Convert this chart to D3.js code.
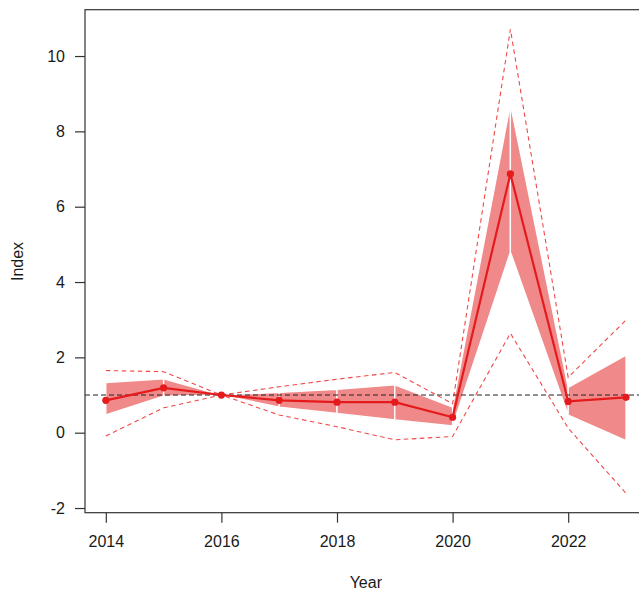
<!DOCTYPE html>
<html>
<head>
<meta charset="utf-8">
<script src="https://cdn.jsdelivr.net/npm/d3@7"></script>
<style>
  html, body { margin: 0; padding: 0; background: #fff; overflow: hidden; }
  svg { display: block; }
  text { font-family: "Liberation Sans", Arial, sans-serif; fill: #1a1a1a; }
</style>
</head>
<body>
<script>
// ---- data ----
const years      = [2014, 2015, 2016, 2017, 2018, 2019, 2020, 2021, 2022, 2023];
const indexVals  = [0.86, 1.19, 1.00, 0.86, 0.81, 0.81, 0.41, 6.87, 0.83, 0.94];
const bandUpper  = [1.33, 1.43, 1.00, 1.07, 1.15, 1.27, 0.68, 8.72, 1.20, 2.06];
const bandLower  = [0.47, 0.97, 1.00, 0.68, 0.51, 0.34, 0.18, 4.80, 0.47, -0.21];
const dashUpper  = [1.65, 1.62, 1.00, 1.22, 1.42, 1.60, 0.77, 10.71, 1.47, 2.99];
const dashLower  = [-0.09, 0.66, 1.00, 0.47, 0.16, -0.19, -0.10, 2.64, 0.12, -1.61];
const xTicks     = [2014, 2016, 2018, 2020, 2022];
const yTicks     = [-2, 0, 2, 4, 6, 8, 10];
const refLevel   = 1;

// ---- layout ----
const W = 639, H = 592;
const svg = d3.select("body").append("svg").attr("width", W).attr("height", H);

const x = d3.scaleLinear().domain([2013.64, 2023.36]).range([85, 646.8]);
const y = d3.scaleLinear().domain([-2.124, 11.23]).range([512.7, 9.7]);

const bandColor = "#f08a8a";
const lineColor = "#e41a1c";

// band segments (one polygon per pair of consecutive years, white border)
const segs = d3.range(years.length - 1).map(i => [
  [x(years[i]), y(bandUpper[i])],
  [x(years[i + 1]), y(bandUpper[i + 1])],
  [x(years[i + 1]), y(bandLower[i + 1])],
  [x(years[i]), y(bandLower[i])]
]);
svg.append("g").selectAll("polygon").data(segs).join("polygon")
  .attr("points", d => d.map(p => p.join(",")).join(" "))
  .attr("fill", bandColor)
  .attr("stroke", "#fff")
  .attr("stroke-width", 1.3)
  .attr("stroke-linejoin", "miter");

// dashed CI lines
const lineGen = vals => d3.line()
  .x((d, i) => x(years[i]))
  .y(d => y(d))(vals);

[dashUpper, dashLower].forEach(vals => {
  svg.append("path")
    .attr("d", lineGen(vals))
    .attr("fill", "none")
    .attr("stroke", "#f04848")
    .attr("stroke-width", 1.1)
    .attr("stroke-dasharray", "4.5,3.5");
});

// reference line
svg.append("line")
  .attr("x1", 85).attr("x2", W + 10)
  .attr("y1", y(refLevel)).attr("y2", y(refLevel))
  .attr("stroke", "#222").attr("stroke-width", 1)
  .attr("stroke-dasharray", "5,3");

// main line
svg.append("path")
  .attr("d", lineGen(indexVals))
  .attr("fill", "none")
  .attr("stroke", lineColor)
  .attr("stroke-width", 2.2);

// points
svg.append("g").selectAll("circle").data(indexVals).join("circle")
  .attr("cx", (d, i) => x(years[i]))
  .attr("cy", d => y(d))
  .attr("r", 3.6)
  .attr("fill", lineColor);

// box
svg.append("rect")
  .attr("x", 85).attr("y", 9.7)
  .attr("width", 646.8 - 85).attr("height", 512.7 - 9.7)
  .attr("fill", "none").attr("stroke", "#333").attr("stroke-width", 1.2);

// axes
const ax = svg.append("g").attr("transform", "translate(0,512.7)")
  .call(d3.axisBottom(x).tickValues(xTicks).tickFormat(d => String(d))
    .tickSize(10).tickPadding(13));
const ay = svg.append("g").attr("transform", "translate(85,0)")
  .call(d3.axisLeft(y).tickValues(yTicks).tickFormat(d => String(d))
    .tickSize(10).tickPadding(10));
[ax, ay].forEach(g => {
  g.select(".domain").remove();
  g.selectAll(".tick line").attr("stroke", "#333").attr("stroke-width", 1.2);
  g.selectAll(".tick text")
    .style("font-family", "'Liberation Sans', Arial, sans-serif")
    .style("font-size", "16px").attr("fill", "#1a1a1a");
});

// axis titles
svg.append("text")
  .attr("x", 365.8).attr("y", 588)
  .attr("text-anchor", "middle")
  .style("font-size", "16px")
  .text("Year");
svg.append("text")
  .attr("transform", "translate(23,261.5) rotate(-90)")
  .attr("text-anchor", "middle")
  .style("font-size", "16px")
  .text("Index");
</script>
</body>
</html>
